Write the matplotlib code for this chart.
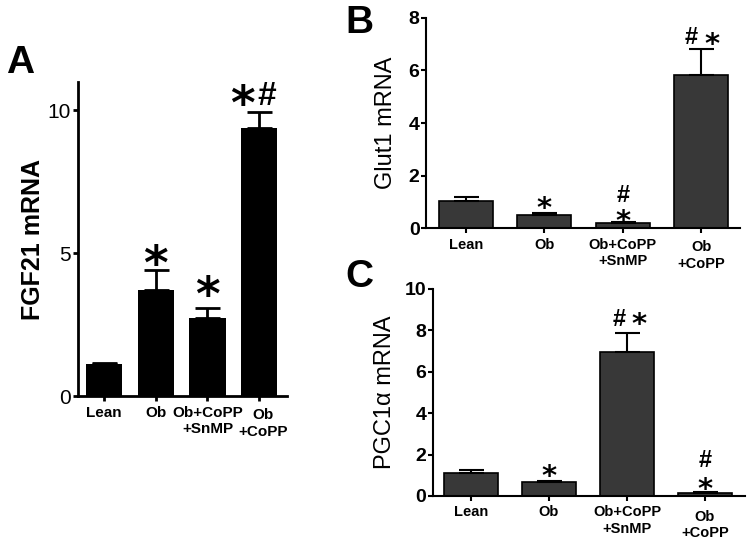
import matplotlib.pyplot as plt
from matplotlib.transforms import ScaledTranslation

plt.rcParams['font.family'] = ['Liberation Sans', 'DejaVu Sans']

groups = ['Lean', 'Ob', 'Ob+CoPP\n+SnMP', 'Ob\n+CoPP']

# A - FGF21
fgf21 = [1.12, 3.72, 2.74, 9.40]
fgf21_err = [0.05, 0.70, 0.35, 0.53]
# B - Glut1
glut1 = [1.03, 0.50, 0.21, 5.83]
glut1_err = [0.15, 0.07, 0.04, 1.00]
# C - PGC1a
pgc1a = [1.11, 0.68, 6.96, 0.14]
pgc1a_err = [0.15, 0.06, 0.91, 0.03]

# significance marks (x, y, text)
marks_a = [(1, 4.55, '*'), (2, 3.45, '*'), (2.67, 10.15, '*')]
hash_a = [(3.15, 10.5, '#')]
marks_b = [(1, 0.72, '*'), (2, 0.24, '*'), (3.14, 6.98, '*')]
hash_b = [(2, 1.26, '#'), (2.87, 7.24, '#')]
marks_c = [(1, 0.9, '*'), (2.16, 8.25, '*'), (3, 0.27, '*')]
hash_c = [(1.9, 8.5, '#'), (3, 1.7, '#')]

fig = plt.figure(figsize=(7.5, 5.42), dpi=100)
x = range(len(groups))


def setup(ax, lw, pad):
    for s in ['top', 'right']:
        ax.spines[s].set_visible(False)
    for s in ['left', 'bottom']:
        ax.spines[s].set_linewidth(lw)
    ax.tick_params(axis='both', width=lw, length=3.8, direction='out')
    ax.tick_params(axis='y', pad=pad)
    ax.tick_params(axis='x', pad=3)


def shift_last(ax, dx, dy):
    lab = ax.get_xticklabels()[-1]
    lab.set_transform(lab.get_transform() +
                      ScaledTranslation(dx / 72, dy / 72, fig.dpi_scale_trans))


# Panel A
axA = fig.add_axes([0.104, 0.269, 0.279, 0.58])
axA.bar(x, fgf21, width=0.7, color='black')
axA.errorbar(x, fgf21, yerr=[[0] * 4, fgf21_err], fmt='none', ecolor='black',
             elinewidth=2, capsize=9, capthick=2)
axA.set_xlim(-0.5, 3.54)
axA.set_ylim(0, 11)
axA.set_yticks([0, 5, 10])
axA.set_xticks(list(x))
axA.set_xticklabels(groups, fontsize=11, fontweight='bold')
axA.tick_params(axis='y', labelsize=15)
setup(axA, 2, 1.5)
shift_last(axA, 3, -2)
axA.set_ylabel('FGF21 mRNA', fontsize=18, fontweight='bold')
axA.yaxis.set_label_coords(-0.16, 0.5)
for xi, yi, t in marks_a:
    axA.text(xi, yi, t, ha='center', va='center', fontsize=34, fontweight='bold',
             family='DejaVu Sans')
for xi, yi, t in hash_a:
    axA.text(xi, yi, t, ha='center', va='center', fontsize=24, fontweight='bold')

# Panel B
axB = fig.add_axes([0.568, 0.579, 0.419, 0.388])
axB.bar(x, glut1, width=0.69, color='#383838', edgecolor='black', linewidth=1.2)
axB.errorbar(x, glut1, yerr=[[0] * 4, glut1_err], fmt='none', ecolor='black',
             elinewidth=1.5, capsize=9, capthick=1.5)
axB.set_xlim(-0.51, 3.5)
axB.set_ylim(0, 8)
axB.set_yticks([0, 2, 4, 6, 8])
axB.set_xticks(list(x))
axB.set_xticklabels(groups, fontsize=10.5, fontweight='bold')
axB.tick_params(axis='y', labelsize=14)
for lab in axB.get_yticklabels():
    lab.set_fontweight('bold')
setup(axB, 1.5, 0.8)
shift_last(axB, 0, -2)
axB.set_ylabel('Glut1 mRNA', fontsize=17)
axB.yaxis.set_label_coords(-0.093, 0.5)
for xi, yi, t in marks_b:
    axB.text(xi, yi, t, ha='center', va='center', fontsize=21, fontweight='bold',
             family='DejaVu Sans')
for xi, yi, t in hash_b:
    axB.text(xi, yi, t, ha='center', va='center', fontsize=17, fontweight='bold')

# Panel C
axC = fig.add_axes([0.577, 0.085, 0.416, 0.382])
axC.bar(x, pgc1a, width=0.69, color='#383838', edgecolor='black', linewidth=1.2)
axC.errorbar(x, pgc1a, yerr=[[0] * 4, pgc1a_err], fmt='none', ecolor='black',
             elinewidth=1.5, capsize=9, capthick=1.5)
axC.set_xlim(-0.49, 3.51)
axC.set_ylim(0, 10)
axC.set_yticks([0, 2, 4, 6, 8, 10])
axC.set_xticks(list(x))
axC.set_xticklabels(groups, fontsize=10.5, fontweight='bold')
axC.tick_params(axis='y', labelsize=14)
for lab in axC.get_yticklabels():
    lab.set_fontweight('bold')
setup(axC, 1.5, 0.8)
shift_last(axC, 0, -3)
axC.set_ylabel('PGC1α mRNA', fontsize=17)
axC.yaxis.set_label_coords(-0.118, 0.5)
for xi, yi, t in marks_c:
    axC.text(xi, yi, t, ha='center', va='center', fontsize=21, fontweight='bold',
             family='DejaVu Sans')
for xi, yi, t in hash_c:
    axC.text(xi, yi, t, ha='center', va='center', fontsize=17, fontweight='bold')

# panel letters
fig.text(0.008, 0.865, 'A', fontsize=28, fontweight='bold')
fig.text(0.46, 0.94, 'B', fontsize=28, fontweight='bold')
fig.text(0.46, 0.47, 'C', fontsize=28, fontweight='bold')

fig.savefig('out.png', dpi=100)
